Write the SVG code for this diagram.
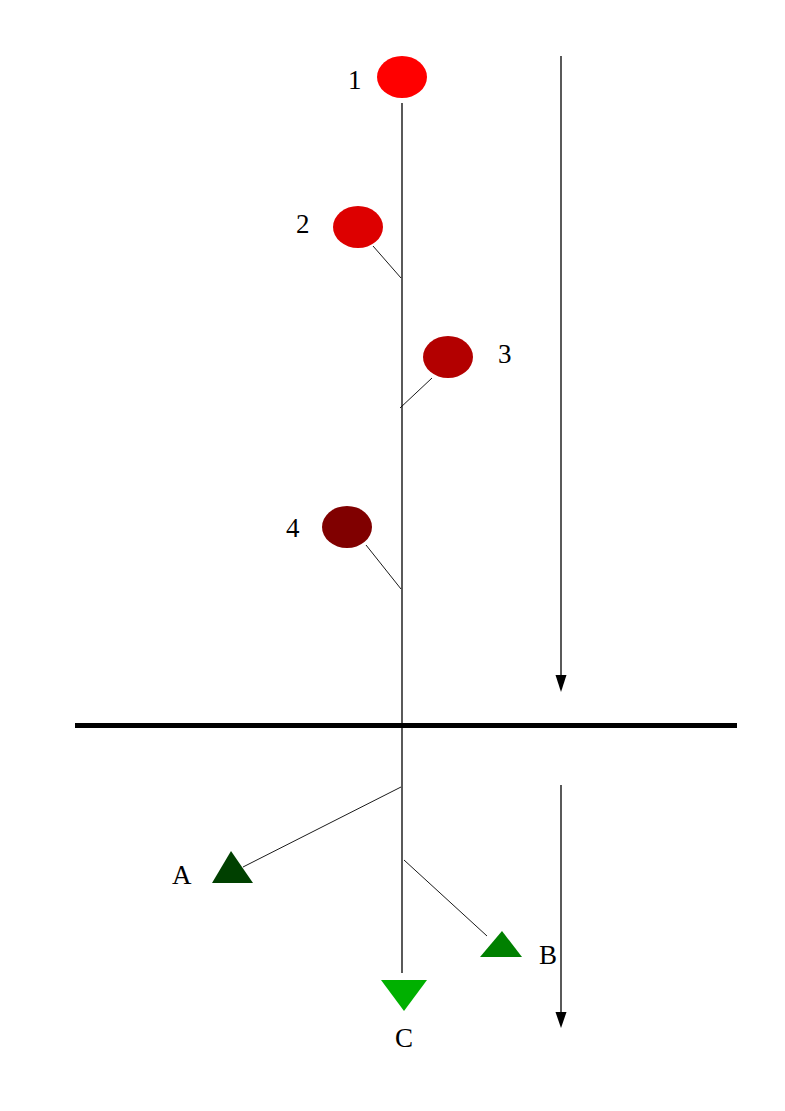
<svg xmlns="http://www.w3.org/2000/svg" width="785" height="1111" viewBox="0 0 785 1111">
<style>
.lbl{font-family:"Liberation Serif","Times New Roman",serif;font-size:27px;fill:#000}
.ln{stroke:#000;stroke-width:1.3;fill:none}
.thin{stroke:#000;stroke-width:0.9;fill:none}
</style>
<rect width="785" height="1111" fill="#fff"/>
<g id="connectors">
<line class="ln" x1="402" y1="103" x2="402" y2="973"/>
<line class="thin" x1="373" y1="246" x2="401" y2="278"/>
<line class="thin" x1="432" y1="378" x2="400" y2="408"/>
<line class="thin" x1="366" y1="545" x2="401" y2="589"/>
<line class="thin" x1="401" y1="787" x2="243" y2="867"/>
<line class="thin" x1="404" y1="860" x2="487" y2="936"/>
<line x1="75" y1="725.5" x2="737" y2="725.5" stroke="#000" stroke-width="5"/>
<line class="ln" x1="561" y1="56" x2="561" y2="675"/>
<path d="M555.5,675 L566.5,675 L561,692 Z" fill="#000"/>
<line class="ln" x1="561" y1="785" x2="561" y2="1012"/>
<path d="M555.5,1012 L566.5,1012 L561,1028 Z" fill="#000"/>
</g>
<g id="node1">
<ellipse cx="402" cy="77" rx="25" ry="21" fill="#ff0000"/>
<text class="lbl" x="348" y="89">1</text>
</g>
<g id="node2">
<ellipse cx="358" cy="227" rx="25" ry="21" fill="#dd0000"/>
<text class="lbl" x="296" y="233">2</text>
</g>
<g id="node3">
<ellipse cx="448" cy="357" rx="25" ry="21" fill="#b30000"/>
<text class="lbl" x="498" y="363">3</text>
</g>
<g id="node4">
<ellipse cx="347" cy="527" rx="25" ry="21" fill="#800000"/>
<text class="lbl" x="286" y="537">4</text>
</g>
<g id="nodeA">
<polygon points="231,851 253,883 212,883" fill="#004000"/>
<text class="lbl" x="172" y="884">A</text>
</g>
<g id="nodeB">
<polygon points="502,931 522,957 480,957" fill="#008000"/>
<text class="lbl" x="539" y="964">B</text>
</g>
<g id="nodeC">
<polygon points="381,980 427,980 404,1011" fill="#00b000"/>
<text class="lbl" x="404" y="1047" text-anchor="middle">C</text>
</g>
</svg>
